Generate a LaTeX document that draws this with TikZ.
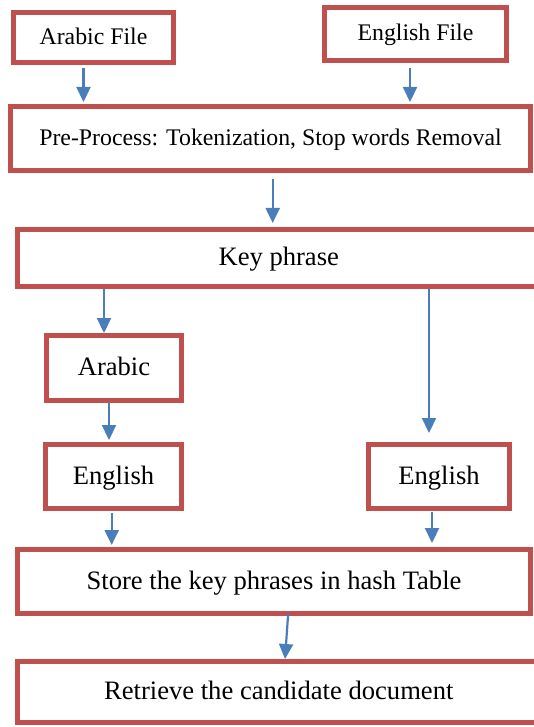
\documentclass[tikz,border=0pt]{standalone}
\usepackage{fontspec}
\setmainfont{Liberation Serif}
\usepackage{tikz}
\usetikzlibrary{arrows.meta, positioning}
\definecolor{boxred}{HTML}{C0504D}
\definecolor{arrblue}{HTML}{4A7EBB}

\begin{document}
\begin{tikzpicture}[
    x=1pt, y=-1pt,
    box/.style={draw=boxred, line width=5pt, align=center, inner sep=0pt,
                text depth=0.3em},
    small/.style={box, font=\fontsize{23.8}{28}\selectfont},
    big/.style={box, font=\fontsize{26.6}{31}\selectfont},
    arr/.style={draw=arrblue, line width=2.2pt,
                -{Triangle[length=15pt, width=14pt]}},
]
\useasboundingbox[fill=white] (0,0) rectangle (534,727);
\clip (0,0) rectangle (534,727);

% input files
\node[small, minimum width=160pt, minimum height=50pt] (af) at (93.5,37.5) {Arabic File};
\node[small, minimum width=182pt, minimum height=53pt] (ef) at (415.5,34) {English File};
\node[small, minimum width=520pt, minimum height=64pt] (pp) at (270.5,138.5)
    {Pre-Process: Tokenization, Stop words Removal};
\node[big, minimum width=522pt, minimum height=57pt] (kp) at (278.75,258) {Key phrase};

% languages
\node[big, minimum width=135pt, minimum height=65pt] (ar) at (114,368) {Arabic};
\node[big, minimum width=136pt, minimum height=64pt] (enl) at (113.5,476.5) {English};
\node[big, minimum width=141pt, minimum height=64pt] (enr) at (439,476.5) {English};

% output
\node[big, minimum width=513pt, minimum height=64pt] (st) at (274,581.5)
    {Store the key phrases in hash Table};
\node[big, minimum width=522pt, minimum height=61pt] (rt) at (278.75,692)
    {Retrieve the candidate document};

\draw[arr, shorten <=3pt, shorten >=2pt] (af.south -| 83.5,0) -- (pp.north -| 83.5,0);
\draw[arr, shorten <=5pt, shorten >=2pt] (ef.south -| 410,0) -- (pp.north -| 410,0);
\draw[arr, shorten <=6pt, shorten >=4pt] (pp.south -| 272.7,0) -- (kp.north -| 272.7,0);
\draw[arr] (kp.south -| 104,0) -- (ar.north -| 104,0);
\draw[arr, shorten >=9pt] (kp.south -| 429,0) -- (enr.north -| 429,0);
\draw[arr, shorten >=2pt] (ar.south -| 109,0) -- (enl.north -| 109,0);
\draw[arr, shorten <=2pt, shorten >=2pt] (enl.south -| 111.7,0) -- (st.north -| 111.7,0);
\draw[arr, shorten <=1pt, shorten >=4pt] (enr.south -| 432,0) -- (st.north -| 432,0);
\draw[arr, shorten <=-3pt] (st.south -| 288,0) -- (rt.north -| 285,0);

\end{tikzpicture}
\end{document}
